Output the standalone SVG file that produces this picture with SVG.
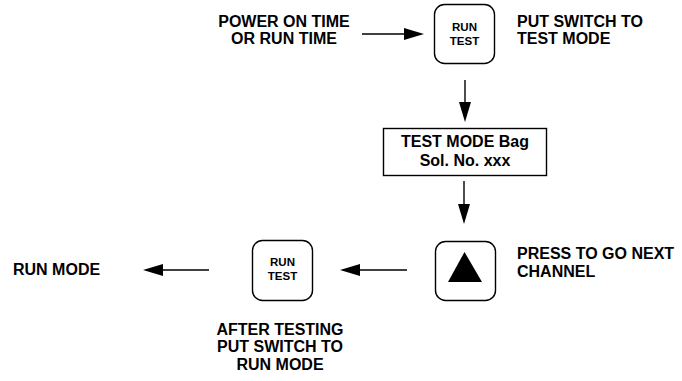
<svg xmlns="http://www.w3.org/2000/svg" width="682" height="381" viewBox="0 0 682 381">
<defs>
<style>
.t{font-family:"Liberation Sans",Arial,sans-serif;font-weight:bold;font-size:16px;fill:#000}
.s{font-family:"Liberation Sans",Arial,sans-serif;font-weight:bold;font-size:11.5px;fill:#000;text-anchor:middle}
.box{fill:#fff;stroke:#000;stroke-width:1.4}
.ln{stroke:#000;stroke-width:1.4;fill:none}
.ah{fill:#000}
</style>
</defs>
<rect width="682" height="381" fill="#fff"/>
<g id="label-power">
<text class="t" x="284" y="27" text-anchor="middle">POWER ON TIME</text>
<text class="t" x="284" y="44" text-anchor="middle">OR RUN TIME</text>
</g>
<g id="node-runtest-top">
<rect class="box" x="434.5" y="4.5" width="60" height="59" rx="10"/>
<text class="s" x="464.5" y="31">RUN</text>
<text class="s" x="464.5" y="45">TEST</text>
</g>
<g id="label-put-test">
<text class="t" x="517" y="27">PUT SWITCH TO</text>
<text class="t" x="517" y="44">TEST MODE</text>
</g>
<g id="node-testmode">
<rect class="box" x="383.5" y="128.5" width="163" height="47"/>
<text class="t" x="465" y="147" text-anchor="middle">TEST MODE Bag</text>
<text class="t" x="465" y="166" text-anchor="middle">Sol. No. xxx</text>
</g>
<g id="node-up">
<rect class="box" x="435.5" y="241.5" width="60" height="59" rx="10"/>
<polygon points="464.5,252 448,282 482,282" fill="#000"/>
</g>
<g id="label-press">
<text class="t" x="517" y="259">PRESS TO GO NEXT</text>
<text class="t" x="517" y="277">CHANNEL</text>
</g>
<g id="node-runtest-bottom">
<rect class="box" x="252.5" y="240.5" width="60" height="60" rx="10"/>
<text class="s" x="282.5" y="266">RUN</text>
<text class="s" x="282.5" y="280">TEST</text>
</g>
<g id="label-after">
<text class="t" x="280" y="335" text-anchor="middle">AFTER TESTING</text>
<text class="t" x="280" y="352" text-anchor="middle">PUT SWITCH TO</text>
<text class="t" x="280" y="370" text-anchor="middle">RUN MODE</text>
</g>
<g id="label-runmode">
<text class="t" x="13" y="275">RUN MODE</text>
</g>
<g id="connectors">
<line class="ln" x1="362" y1="34" x2="406" y2="34"/>
<polygon class="ah" points="424,34 404,28 404,40"/>
<line class="ln" x1="465" y1="80" x2="465" y2="104"/>
<polygon class="ah" points="465,122 459,102 471,102"/>
<line class="ln" x1="464" y1="181" x2="464" y2="206"/>
<polygon class="ah" points="464,224 458,204 470,204"/>
<line class="ln" x1="407" y1="270" x2="358" y2="270"/>
<polygon class="ah" points="340,270 360,264 360,276"/>
<line class="ln" x1="209" y1="270" x2="161" y2="270"/>
<polygon class="ah" points="143,270 163,264 163,276"/>
</g>
</svg>
